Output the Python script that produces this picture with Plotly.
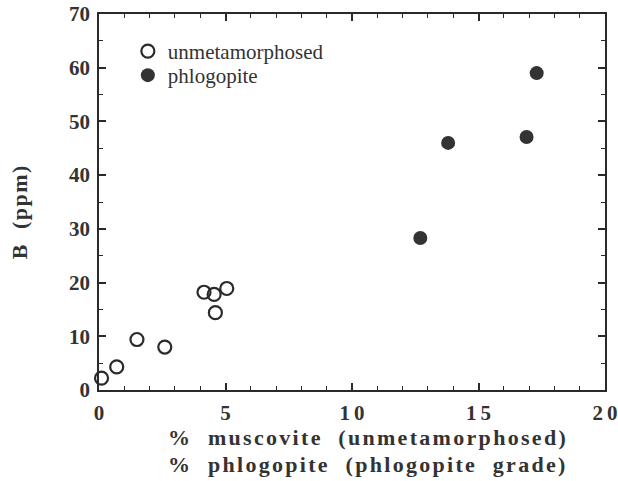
import plotly.graph_objects as go

unmet_x = [0.1, 0.7, 1.5, 2.6, 4.15, 4.55, 5.05, 4.6]
unmet_y = [2.2, 4.3, 9.4, 8.0, 18.2, 17.8, 18.9, 14.4]
phlog_x = [12.7, 13.8, 16.9, 17.3]
phlog_y = [28.3, 46.0, 47.1, 59.0]

x_ticks = [0, 5, 10, 15, 20]
x_ticktext = ["0", "5", "1\u20090", "1\u20095", "2\u20090"]
y_ticks = [0, 10, 20, 30, 40, 50, 60, 70]

FONT = "Liberation Serif"
INK = "#2a2a2a"

fig = go.Figure()
fig.add_trace(go.Scatter(
    x=unmet_x, y=unmet_y, mode="markers", name="unmetamorphosed", legend="legend",
    marker=dict(symbol="circle-open", size=13, color=INK, line=dict(width=2.2, color=INK)),
    cliponaxis=False))
fig.add_trace(go.Scatter(
    x=phlog_x, y=phlog_y, mode="markers", name="phlogopite", legend="legend2",
    marker=dict(symbol="circle", size=14, color="#333"),
    cliponaxis=False))

axis_common = dict(
    showline=True, linecolor=INK, linewidth=1.8, mirror="allticks",
    ticks="inside", ticklen=7, tickwidth=1.5, tickcolor=INK,
    showgrid=False, zeroline=False, automargin=False,
    ticklabeloverflow="allow",
    tickfont=dict(family=FONT, size=21, color="#333", weight="bold"),
)

fig.update_xaxes(range=[0, 20], tickvals=x_ticks, ticktext=x_ticktext,
                 minor=dict(dtick=1, ticks="inside", ticklen=4, tickcolor=INK, tickwidth=1.2),
                 ticklabelstandoff=3,
                 **axis_common)
fig.update_yaxes(range=[0, 70], tickvals=y_ticks,
                 minor=dict(dtick=5, ticks="inside", ticklen=4, tickcolor=INK, tickwidth=1.2),
                 ticklabelstandoff=3,
                 **axis_common)

title_style = "letter-spacing:2.3px"
fig.add_annotation(text=f"<b><span style='{title_style}'>%  muscovite  (unmetamorphosed)</span></b>",
                   xref="paper", yref="paper",
                   x=0.133, y=-0.125, xanchor="left", yanchor="middle", showarrow=False,
                   font=dict(family=FONT, size=22, color="#333"))
fig.add_annotation(text=f"<b><span style='{title_style}'>%  phlogopite  (phlogopite  grade)</span></b>",
                   xref="paper", yref="paper",
                   x=0.133, y=-0.198, xanchor="left", yanchor="middle", showarrow=False,
                   font=dict(family=FONT, size=22, color="#333"))
fig.add_annotation(text="<b><span style='letter-spacing:1.5px'>B  (ppm)</span></b>",
                   xref="paper", yref="paper",
                   x=-0.158, y=0.473, xanchor="center", yanchor="middle", showarrow=False,
                   textangle=-90, font=dict(family=FONT, size=22, color="#333"))

legend_font = dict(family=FONT, size=21, color="#333")
fig.update_layout(
    width=618, height=481,
    margin=dict(l=99, r=13, t=14, b=91),
    paper_bgcolor="white", plot_bgcolor="white",
    showlegend=True,
    legend=dict(x=0.057, y=0.955, xanchor="left", yanchor="top",
                bgcolor="rgba(0,0,0,0)", font=legend_font, itemsizing="trace"),
    legend2=dict(x=0.057, y=0.891, xanchor="left", yanchor="top",
                 bgcolor="rgba(0,0,0,0)", font=legend_font, itemsizing="trace"),
)

fig.write_html(
    "out.html",
    config={"displayModeBar": False},
    post_script="document.body.style.margin='0';document.body.style.overflow='hidden';",
)
